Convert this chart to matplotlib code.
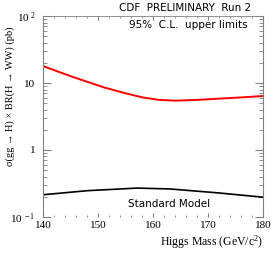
import matplotlib
matplotlib.use("Agg")
import matplotlib.pyplot as plt
from matplotlib.ticker import FixedLocator, NullFormatter

plt.rcParams["mathtext.fontset"] = "custom"
plt.rcParams["mathtext.rm"] = "Liberation Serif"
plt.rcParams["mathtext.it"] = "Liberation Serif:italic"

# Higgs mass points (GeV/c^2)
mass_limit = [140, 145, 151, 155, 158, 161, 164, 168, 172, 176, 180]
limit = [17.8, 12.6, 8.6, 7.0, 6.1, 5.6, 5.45, 5.6, 5.85, 6.1, 6.4]

mass_sm = [140, 148, 157, 163, 172, 180]
sm = [0.215, 0.247, 0.27, 0.262, 0.228, 0.197]

xticks = [140, 150, 160, 170, 180]
yticks = [0.1, 1, 10, 100]
ylabels = [r"$\mathrm{10}^{\ -1}$", "1", "10", r"$\mathrm{10}^{\ 2}$"]

fig = plt.figure(figsize=(2.77, 2.63), dpi=100)
ax = fig.add_axes([0.157, 0.175, 0.794, 0.764])

ax.plot(mass_limit, limit, color="red", lw=1.4)
ax.plot(mass_sm, sm, color="black", lw=1.2)

ax.set_yscale("log")
ax.set_xlim(140, 180)
ax.set_ylim(0.1, 100)

serif = ["Liberation Serif", "DejaVu Serif"]
ax.set_xticks(xticks)
ax.set_xticklabels([str(v) for v in xticks], family=serif, fontsize=8)
ax.xaxis.set_minor_locator(FixedLocator(list(range(140, 181, 2))))
ax.set_yticks(yticks)
ax.set_yticklabels(ylabels, family=serif, fontsize=8)
ax.yaxis.set_minor_formatter(NullFormatter())

ax.tick_params(axis="y", which="both", direction="in", left=True, right=True,
               color="gray", labelcolor="black", pad=6)
ax.tick_params(axis="y", which="major", length=6)
ax.tick_params(axis="y", which="minor", length=3)
ax.tick_params(axis="x", which="both", direction="in", top=True, color="gray", pad=3)
ax.tick_params(axis="x", which="major", length=3)
ax.tick_params(axis="x", which="minor", length=1.5)

ax.spines["bottom"].set_visible(False)
for s in ("left", "right", "top"):
    ax.spines[s].set_color("gray")
ax.spines["top"].set_linewidth(0.6)

ax.set_xlabel(r"Higgs Mass (GeV/c$^2$)", family=serif, fontsize=8.5, loc="right", labelpad=2)
ax.set_ylabel("σ(gg → H) × BR(H → WW) (pb)", family=serif, fontsize=7.5)
ax.yaxis.set_label_coords(-0.13, 0.6)

fig.text(0.905, 0.97, "CDF  PRELIMINARY  Run 2", ha="right", va="center",
         fontsize=7.5, family="DejaVu Sans")
ax.text(0.93, 0.955, "95%  C.L.  upper limits", transform=ax.transAxes,
        ha="right", va="center", fontsize=7.5, family="DejaVu Sans")
ax.text(0.57, 0.065, "Standard Model", transform=ax.transAxes,
        ha="center", va="center", fontsize=7.5, family="DejaVu Sans")

fig.savefig("out.png", dpi=100)
